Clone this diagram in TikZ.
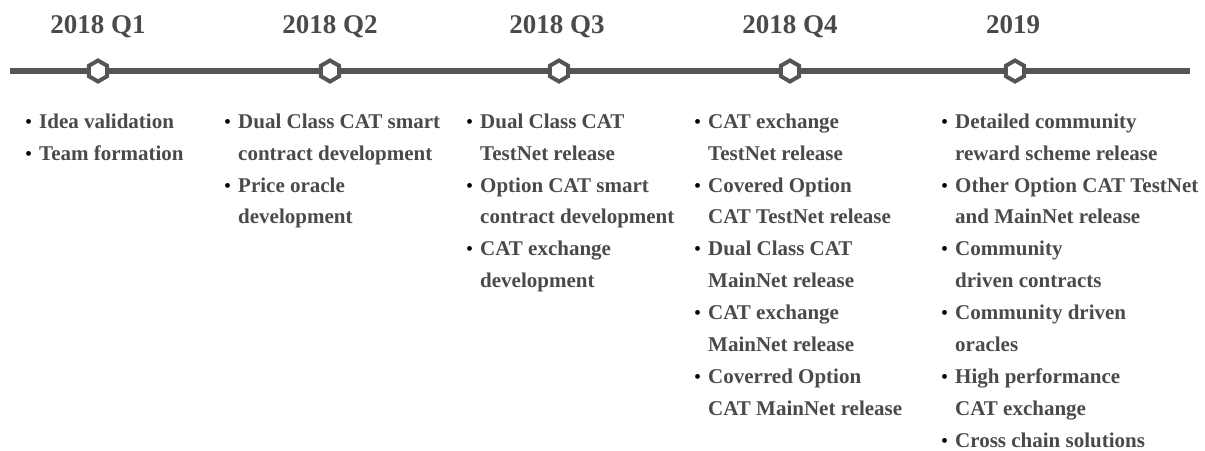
\documentclass[tikz,border=0pt]{standalone}
\usepackage{fontspec}
\setmainfont{Liberation Serif}
\usetikzlibrary{shapes.geometric}
\definecolor{linegray}{HTML}{555555}
\definecolor{txtgray}{HTML}{4A4A4A}
\newcommand{\bul}{\llap{\makebox[14pt][l]{\normalfont\fontsize{20}{20}\selectfont\color{black}\textbullet}}}
\tikzset{
  hexmark/.style={regular polygon, regular polygon sides=6, shape border rotate=30, minimum size=21pt, inner sep=0pt, draw=linegray, line width=4pt, fill=white},
  yearlabel/.style={font=\bfseries\fontsize{27}{30}\selectfont, text=txtgray, anchor=base, inner sep=0pt},
  itemlist/.style={font=\bfseries\fontsize{21}{31.9}\selectfont, text=txtgray, align=left, anchor=north west, inner sep=0pt}
}
\begin{document}
\begin{tikzpicture}[x=1pt,y=-1pt]
\useasboundingbox (0,0) rectangle (1205,450);
\coordinate (L) at (10,71);
\coordinate (R) at (1190,71);
\draw[linegray, line width=5.5pt] (L) -- (R);
\foreach \n/\x in {a/98, b/330, c/559, d/790, e/1015}{
  \node[hexmark] (h\n) at (\x,71) {};
}
\node[yearlabel] (ya) at (98,33) {2018 Q1};
\node[yearlabel] (yb) at (330,33) {2018 Q2};
\node[yearlabel] (yc) at (557,33) {2018 Q3};
\node[yearlabel] (yd) at (790,33) {2018 Q4};
\node[yearlabel] (ye) at (1013,33) {2019};

\node[itemlist] (la) at (39,113.5) {\bul Idea validation\\ \bul Team formation};
\node[itemlist] (lb) at (238,113.5) {\bul Dual Class CAT smart\\ contract development\\ \bul Price oracle\\ development};
\node[itemlist] (lc) at (480,113.5) {\bul Dual Class CAT\\ TestNet release\\ \bul Option CAT smart\\ contract development\\ \bul CAT exchange\\ development};
\node[itemlist] (ld) at (708,113.5) {\bul CAT exchange\\ TestNet release\\ \bul Covered Option\\ CAT TestNet release\\ \bul Dual Class CAT\\ MainNet release\\ \bul CAT exchange\\ MainNet release\\ \bul Coverred Option\\ CAT MainNet release};
\node[itemlist] (le) at (955,113.5) {\bul Detailed community\\ reward scheme release\\ \bul Other Option CAT TestNet\\ and MainNet release\\ \bul Community\\ driven contracts\\ \bul Community driven\\ oracles\\ \bul High performance\\ CAT exchange\\ \bul Cross chain solutions};
\end{tikzpicture}
\end{document}
